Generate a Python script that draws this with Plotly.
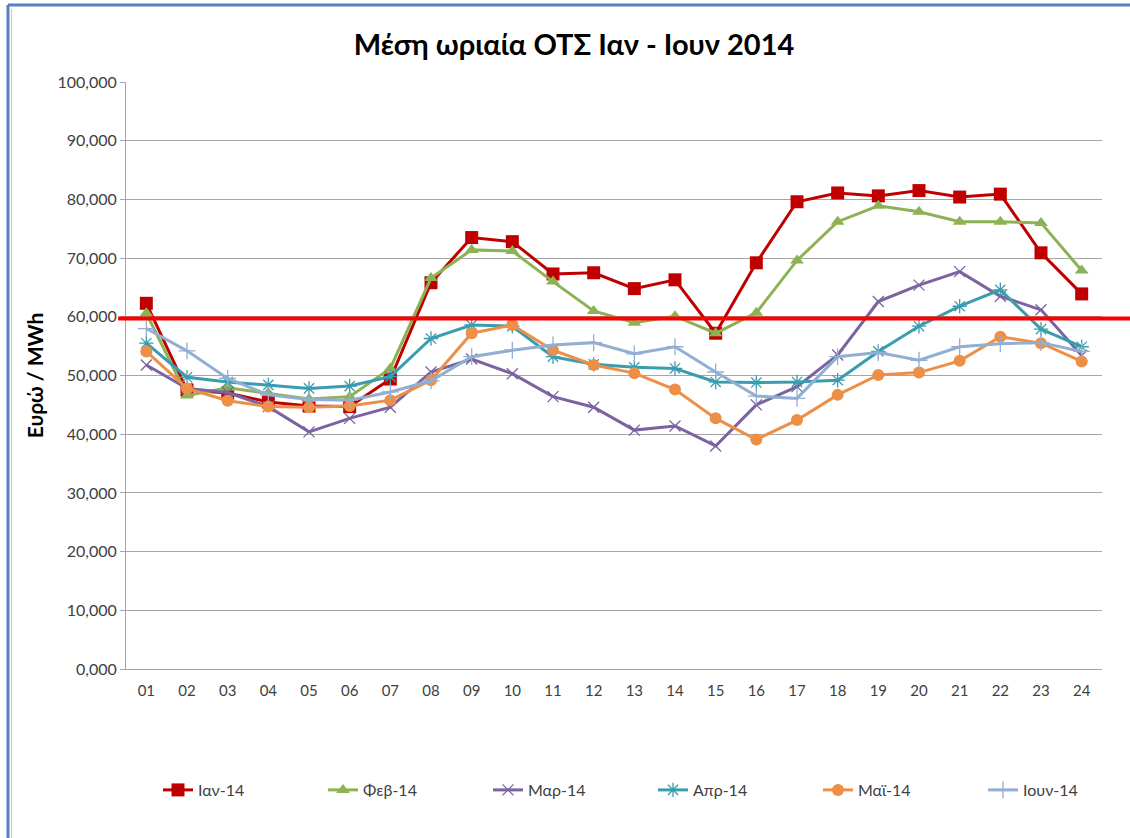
import plotly.graph_objects as go

hours = [f"{h:02d}" for h in range(1, 25)]

jan = [62.3, 47.5, 47.0, 45.5, 44.8, 44.7, 49.4, 65.8, 73.5, 72.8, 67.3, 67.5,
       64.8, 66.3, 57.2, 69.2, 79.6, 81.1, 80.6, 81.5, 80.4, 80.9, 70.9, 63.9]
feb = [60.6, 46.6, 47.9, 47.0, 46.0, 46.4, 51.2, 66.6, 71.4, 71.2, 66.0, 61.0,
       59.0, 60.1, 57.2, 60.7, 69.6, 76.2, 78.9, 77.9, 76.2, 76.2, 76.0, 67.9]
mar = [51.8, 47.8, 47.1, 44.7, 40.4, 42.7, 44.6, 50.6, 52.8, 50.3, 46.4, 44.6,
       40.7, 41.4, 38.0, 45.0, 48.1, 53.5, 62.6, 65.4, 67.7, 63.5, 61.2, 53.4]
apr = [55.5, 49.7, 48.9, 48.4, 47.8, 48.2, 49.8, 56.3, 58.6, 58.4, 53.2, 51.9,
       51.4, 51.2, 48.9, 48.8, 48.9, 49.2, 54.1, 58.4, 61.8, 64.6, 57.9, 54.9]
may = [54.1, 47.8, 45.7, 44.7, 44.6, 44.8, 45.8, 49.2, 57.2, 58.6, 54.3, 51.8,
       50.4, 47.6, 42.7, 39.1, 42.4, 46.7, 50.1, 50.5, 52.5, 56.6, 55.5, 52.4]
jun = [58.0, 54.2, 49.5, 46.7, 45.9, 45.8, 47.2, 49.1, 53.2, 54.3, 55.2, 55.6,
       53.7, 54.9, 50.6, 46.5, 46.1, 53.2, 53.9, 52.6, 54.9, 55.4, 55.6, 54.1]

series_names = ["Ιαν-14", "Φεβ-14", "Μαρ-14", "Απρ-14", "Μαϊ-14", "Ιουν-14"]
threshold = 59.7

y_ticks = list(range(0, 101, 10))
y_tick_labels = [f"{v},000" for v in y_ticks]

styles = [
    dict(color="#C00000", symbol="square", size=13, open=False),
    dict(color="#8DB254", symbol="triangle-up", size=12, open=False),
    dict(color="#7B62A0", symbol="x-thin-open", size=11, open=True),
    dict(color="#3A9DAF", symbol="asterisk-open", size=12, open=True),
    dict(color="#EE8F47", symbol="circle", size=12, open=False),
    dict(color="#93AED3", symbol="cross-thin-open", size=12, open=True),
]

W, H = 1130, 838
L, R, T, B = 126, 28, 82, 169
pw, ph = W - L - R, H - T - B


def px(x):
    return (x - L) / pw


def py(y):
    return (H - B - y) / ph


fig = go.Figure()
legend_layouts = {}
for i, (name, vals, st) in enumerate(zip(series_names, [jan, feb, mar, apr, may, jun], styles)):
    marker = dict(symbol=st["symbol"], size=st["size"], color=st["color"])
    if st["open"]:
        marker["line"] = dict(color=st["color"], width=1.3)
    else:
        marker["line"] = dict(width=0)
    lg = "legend" if i == 0 else f"legend{i + 1}"
    fig.add_trace(go.Scatter(
        x=hours, y=vals, name=name, mode="lines+markers",
        line=dict(color=st["color"], width=3),
        marker=marker, legend=lg,
    ))
    legend_layouts[lg] = dict(
        orientation="h", x=px(158 + 165 * i), xanchor="left",
        y=py(790), yanchor="middle", bgcolor="rgba(0,0,0,0)",
        font=dict(size=16, color="#404040"), itemwidth=30,
    )

# horizontal reference line
fig.add_shape(type="line", xref="paper", yref="y",
              x0=px(118), x1=px(1135), y0=threshold, y1=threshold,
              line=dict(color="#FF0000", width=4), layer="above")

# blue frame on left / top
fig.add_shape(type="line", xref="paper", yref="paper", x0=px(8), x1=px(1135), y0=py(5), y1=py(5),
              line=dict(color="#5580C4", width=3))
fig.add_shape(type="line", xref="paper", yref="paper", x0=px(8), x1=px(8), y0=py(5), y1=py(845),
              line=dict(color="#5580C4", width=3))
fig.add_shape(type="line", xref="paper", yref="paper", x0=px(11.5), x1=px(11.5), y0=py(9), y1=py(845),
              line=dict(color="#C8C8C8", width=1))

fig.update_layout(
    width=W, height=H,
    margin=dict(l=L, r=R, t=T, b=B),
    paper_bgcolor="white", plot_bgcolor="white",
    title=dict(text="<b>Μέση ωριαία ΟΤΣ Ιαν - Ιουν 2014</b>", x=574 / W, xanchor="center",
               y=1 - 45 / H, yanchor="middle",
               font=dict(family="Lato, Open Sans, sans-serif", size=29, color="#000000")),
    font=dict(family="Lato, Open Sans, sans-serif", size=15, color="#404040"),
    showlegend=True,
    xaxis=dict(type="category", showgrid=False, showline=True, linecolor="#A6A6A6",
               linewidth=1, ticks="", tickfont=dict(size=15, color="#404040"),
               ticklabelstandoff=8, range=[-0.5, 23.5]),
    yaxis=dict(range=[0, 100], tickvals=y_ticks, ticktext=y_tick_labels,
               showgrid=True, gridcolor="#A6A6A6", gridwidth=1,
               showline=True, linecolor="#A6A6A6", linewidth=1,
               ticks="outside", ticklen=5, tickcolor="#A6A6A6",
               tickfont=dict(size=16, color="#404040"), zeroline=False,
               title=dict(text="<b>Ευρώ / MWh</b>", standoff=8,
                          font=dict(size=21, color="#000000"))),
    **legend_layouts,
)

fig.write_html("out.html", config={"displayModeBar": False},
               post_script="document.body.style.margin='0px';")
